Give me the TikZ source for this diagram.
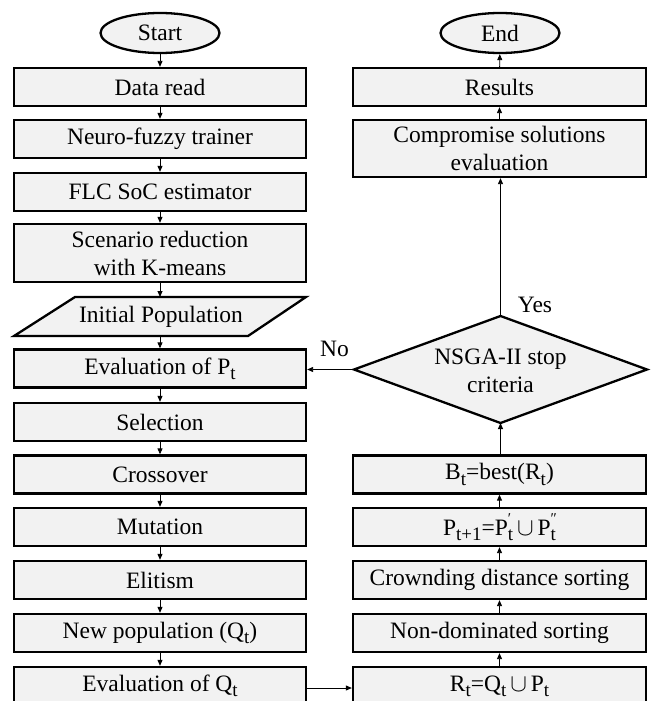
\documentclass[tikz,border=0pt]{standalone}
\usepackage{fontspec}
\setmainfont{Liberation Serif}
\usetikzlibrary{shapes.geometric,arrows.meta}
\definecolor{boxfill}{HTML}{F2F2F2}
\newcommand\sbs[1]{\raisebox{-0.22em}{\fontsize{19}{19}\selectfont #1}}
\newcommand\prs[2]{\makebox[0pt][l]{\raisebox{0.5em}{\fontsize{15}{15}\selectfont #1}}\sbs{#2}}
\begin{document}
\begin{tikzpicture}[x=1pt,y=-1pt,
  every node/.style={font=\fontsize{23.5}{28}\selectfont, inner sep=0pt, align=center},
  procbox/.style={draw, line width=2.3pt, fill=boxfill, minimum width=292pt, minimum height=38pt},
  tallbox/.style={procbox, minimum height=58pt},
  term/.style={draw, ellipse, line width=2.3pt, fill=boxfill, minimum width=119pt, minimum height=40pt},
  outline/.style={draw, line width=2.3pt, fill=boxfill},
  arr/.style={-{Triangle[length=6pt,width=5pt]}, line width=0.9pt},
  lbl/.style={font=\fontsize{23.5}{28}\selectfont}]
\useasboundingbox (0,0) rectangle (653,701);
\clip (0,0) rectangle (653,701);
% left column
\node[term] (start) at (160,33) {Start};
\node[procbox] (data) at (160,87) {Data read};
\node[procbox] (neuro) at (160,139) {Neuro-fuzzy trainer};
\node[procbox] (flc) at (160,192) {FLC SoC estimator};
\node[tallbox] (scen) at (160,253) {Scenario reduction\\with K-means};
\draw[outline] (75,297) -- (306,297) -- (248,336) -- (14,336) -- cycle;
\node (init) at (161,316.5) {Initial Population};
\coordinate (initT) at (160,297);
\coordinate (initB) at (160,336);
\node[procbox] (evp) at (160,368.5) {Evaluation of P\sbs{t}};
\node[procbox] (sel) at (160,422) {Selection};
\node[procbox] (cross) at (160,474.5) {Crossover};
\node[procbox] (mut) at (160,527) {Mutation};
\node[procbox] (elit) at (160,580) {Elitism};
\node[procbox] (newp) at (160,633) {New population (Q\sbs{t})};
\node[procbox] (evq) at (160,686) {Evaluation of Q\sbs{t}};
% right column
\node[term] (end) at (500,33) {End};
\node[procbox, minimum width=293pt] (res) at (499.5,87) {Results};
\node[tallbox, minimum width=293pt, minimum height=57pt] (comp) at (499.5,148.5) {Compromise solutions\\evaluation};
\coordinate (stopW) at (354,369.5);
\coordinate (stopN) at (500.5,316);
\coordinate (stopE) at (647,369.5);
\coordinate (stopS) at (500.5,423);
\draw[outline] (stopW) -- (stopN) -- (stopE) -- (stopS) -- cycle;
\node (stop) at (500.5,371) {NSGA-II stop\\criteria};
\node[procbox, minimum width=293pt] (bt) at (499.5,474.5) {B\sbs{t}=best(R\sbs{t})};
\node[procbox, minimum width=293pt] (pt1) at (499.5,527) {P\sbs{t+1}=P\prs{′}{t}\,$\cup$\,P\prs{″}{t}};
\node[procbox, minimum width=293pt] (crowd) at (499.5,580) {Crownding distance sorting};
\node[procbox, minimum width=293pt] (nond) at (499.5,633) {Non-dominated sorting};
\node[procbox, minimum width=293pt] (rt) at (499.5,686) {R\sbs{t}=Q\sbs{t}\,$\cup$\,P\sbs{t}};
% arrows left
\draw[arr] (start) -- (data);
\draw[arr] (data) -- (neuro);
\draw[arr] (neuro) -- (flc);
\draw[arr] (flc) -- (scen);
\draw[arr] (scen) -- (initT);
\draw[arr] (initB) -- (evp);
\draw[arr] (evp) -- (sel);
\draw[arr] (sel) -- (cross);
\draw[arr] (cross) -- (mut);
\draw[arr] (mut) -- (elit);
\draw[arr] (elit) -- (newp);
\draw[arr] (newp) -- (evq);
\draw[arr] (evq.east |- 0,688) -- (rt.west |- 0,688);
% arrows right
\draw[arr] (rt) -- (nond);
\draw[arr] (nond) -- (crowd);
\draw[arr] (crowd) -- (pt1);
\draw[arr] (pt1) -- (bt);
\draw[arr] (bt.north -| stopS) -- (stopS);
\draw[arr] (stopN) -- (stopN |- comp.south);
\draw[arr] (comp) -- (res);
\draw[arr] (res) -- (end);
\draw[arr] (stopW) -- (stopW -| evp.east);
\node[lbl] at (334.5,349) {No};
\node[lbl] at (535,305) {Yes};
\end{tikzpicture}
\end{document}
